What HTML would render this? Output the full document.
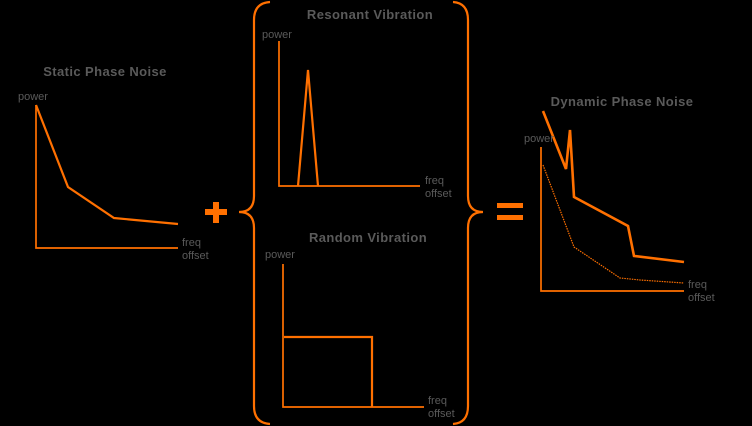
<!DOCTYPE html>
<html><head><meta charset="utf-8"><style>
html,body{margin:0;padding:0;background:#000;}
svg{display:block}
text{font-family:"Liberation Sans",sans-serif;fill:#5a5a5a;}
.t{font-weight:bold;font-size:13px;letter-spacing:0.4px;}
.l{font-size:11px;}
</style></head><body>
<svg width="752" height="426" viewBox="0 0 752 426" xmlns="http://www.w3.org/2000/svg">
<g fill="none" stroke="#ff7000" stroke-width="2.2" stroke-linejoin="miter">
<path d="M270,2 Q254,3 254,20 L254,196 Q254,212 239,212 Q254,212 254,228 L254,406 Q254,423 270,424"/>
<path d="M453,2 Q468,3 468,20 L468,196 Q468,212 483,212 Q468,212 468,228 L468,406 Q468,423 453,424"/>
<path d="M36,105 L36,248 L178,248" stroke-width="1.7"/>
<path d="M36,105 L68,187 L114,218 L178,224"/>
<path d="M279,41 L279,186 L420,186" stroke-width="1.7"/>
<path d="M298,186 L308,70 L318,186"/>
<path d="M283,264 L283,407 L424,407" stroke-width="1.7"/>
<path d="M284,337 L372,337 L372,407"/>
<path d="M541,147 L541,291 L684,291" stroke-width="1.7"/>
<path d="M543,111 L566,169 L570,130 L574,197 L628,226 L634,256 L684,262" stroke-width="2.6"/>
<path d="M543,165 L574,247 L620,278 L640,280 L684,283" stroke-width="1.2" stroke-dasharray="1.5,1"/>
</g>
<g fill="#ff7000">
<rect x="205" y="209" width="22" height="6"/>
<rect x="213" y="202" width="6" height="21"/>
<rect x="497" y="203" width="26" height="5"/>
<rect x="497" y="215" width="26" height="5"/>
</g>
<text class="t" x="105" y="76" text-anchor="middle">Static Phase Noise</text>
<text class="t" x="370" y="19" text-anchor="middle">Resonant Vibration</text>
<text class="t" x="368" y="242" text-anchor="middle">Random Vibration</text>
<text class="t" x="622" y="106" text-anchor="middle">Dynamic Phase Noise</text>
<text class="l" x="18" y="100">power</text>
<text class="l" x="182" y="246">freq</text>
<text class="l" x="182" y="259">offset</text>
<text class="l" x="262" y="38">power</text>
<text class="l" x="425" y="184">freq</text>
<text class="l" x="425" y="197">offset</text>
<text class="l" x="265" y="258">power</text>
<text class="l" x="428" y="404">freq</text>
<text class="l" x="428" y="417">offset</text>
<text class="l" x="524" y="142">power</text>
<text class="l" x="688" y="288">freq</text>
<text class="l" x="688" y="301">offset</text>
</svg>
</body></html>
